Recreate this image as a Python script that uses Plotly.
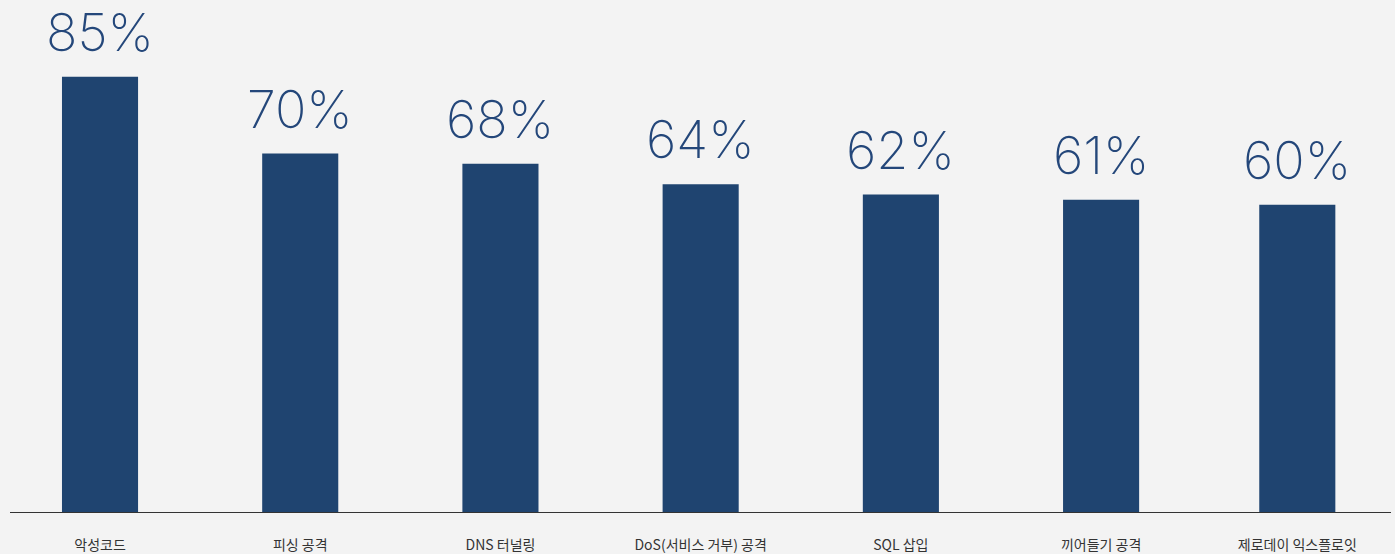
import plotly.graph_objects as go

categories = ["악성코드", "피싱 공격", "DNS 터널링", "DoS(서비스 거부) 공격", "SQL 삽입", "끼어들기 공격", "제로데이 익스플로잇"]
values = [85, 70, 68, 64, 62, 61, 60]
labels = [f"{v}%" for v in values]
positions = [0, 1, 2, 3, 4, 5, 5.98]

BAR = "#1f4470"
BG = "#f3f3f3"

fig = go.Figure()
fig.add_trace(go.Bar(
    x=positions, y=values, width=0.38,
    marker=dict(color=BAR, line=dict(width=0)),
    hoverinfo="skip",
))

for x, v, t in zip(positions, values, labels):
    fig.add_annotation(
        x=x, y=v, text=t, showarrow=False, yanchor="bottom", yshift=11,
        font=dict(family="Inter", size=52, color="#24477a", weight=200),
    )

fig.update_layout(
    width=1395, height=554,
    margin=dict(l=10, r=4, t=0, b=42),
    paper_bgcolor=BG, plot_bgcolor=BG,
    showlegend=False,
    xaxis=dict(
        range=[-0.4496, 6.448],
        tickmode="array", tickvals=positions, ticktext=categories,
        showgrid=False, zeroline=False,
        showline=True, linecolor="#333333", linewidth=1,
        ticks="", ticklabelstandoff=20,
        tickfont=dict(family="Noto Sans CJK KR", size=14, color="#333333", weight=400),
    ),
    yaxis=dict(range=[0, 100], visible=False, showgrid=False, zeroline=False),
)

fig.write_html(
    "out.html",
    config={"displayModeBar": False},
    post_script="document.body.style.margin='0';document.body.style.background='#f3f3f3';",
)
